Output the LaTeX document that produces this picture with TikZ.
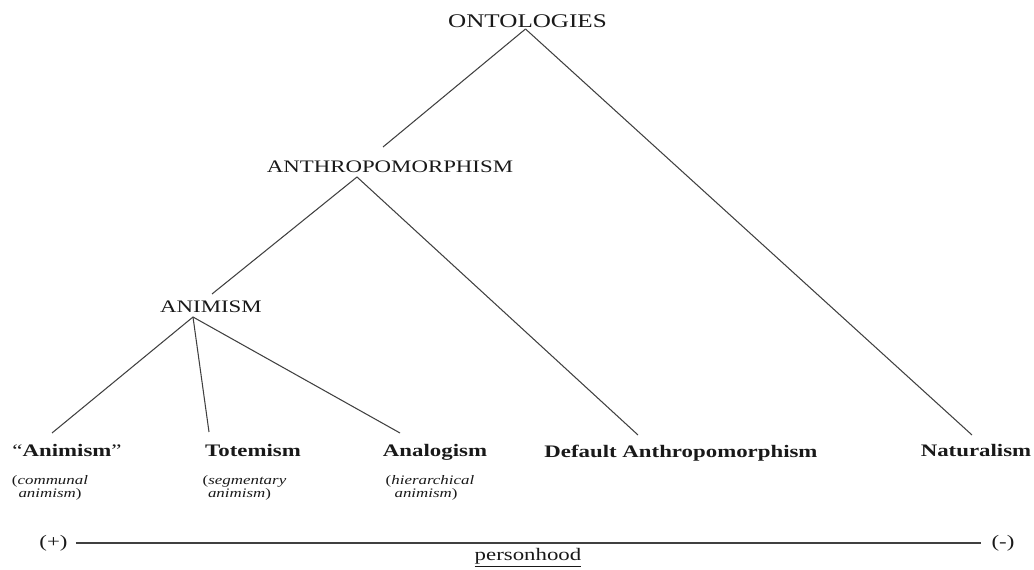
\documentclass[tikz,border=0pt]{standalone}
\usepackage{fontspec}
\setmainfont{Liberation Serif}[FakeStretch=1.3]
\usetikzlibrary{calc}
\begin{document}
\begin{tikzpicture}[x=0.02cm,y=-0.02cm,
  every node/.style={inner sep=0pt, anchor=base, text=black!90},
  head/.style={font=\fontsize{10}{12}\selectfont},
  leaf/.style={font=\bfseries\fontsize{10}{12}\selectfont},
  note/.style={font=\fontsize{7.4}{8}\selectfont},
  link/.style={draw=black!75, line width=0.6pt}]
\useasboundingbox (0,0) rectangle (1034,570);
% nodes
\node[head, font=\fontsize{11}{13}\selectfont] (ont) at (527.5,28) {ONTOLOGIES};
\node[head] (anth) at (390,173) {ANTHROPOMORPHISM};
\node[head] (anim) at (211,313) {ANIMISM};
\node[leaf] (an) at (67,457) {{\mdseries``}Animism{\mdseries''}};
\node[leaf] (tot) at (253,457) {Totemism};
\node[leaf] (ana) at (435,457) {Analogism};
\node[leaf] (def) at (681,458) {Default Anthropomorphism};
\node[leaf] (nat) at (976,457) {Naturalism};
\node[note] (n1a) at (50,484) {(\textit{communal}};
\node[note] (n1b) at (50,498) {\textit{animism})};
\node[note] (n2a) at (244.5,484) {(\textit{segmentary}};
\node[note] (n2b) at (239.5,498) {\textit{animism})};
\node[note] (n3a) at (430,484) {(\textit{hierarchical}};
\node[note] (n3b) at (426,498) {\textit{animism})};
\node[head, anchor=center, inner xsep=4.5pt] (plus) at (53.5,543) {(+)};
\node[head, anchor=center, inner xsep=6pt] (minus) at (1003,543) {(-)};
\node[head] (pers) at (528,560) {\underline{personhood}};
% connectors
\draw[link] ($(ont.base)+(-2,1)$) -- ($(anth.base)+(-7,-26)$);
\draw[link] ($(ont.base)+(-2,1)$) -- ($(nat.base)+(-4,-22)$);
\draw[link] ($(anth.base)+(-33,4)$) -- ($(anim.base)+(1,-19)$);
\draw[link] ($(anth.base)+(-33,4)$) -- ($(def.base)+(-43,-23)$);
\draw[link] ($(anim.base)+(-18,4)$) -- ($(an.base)+(-15,-24)$);
\draw[link] ($(anim.base)+(-18,4)$) -- ($(tot.base)+(-44,-25)$);
\draw[link] ($(anim.base)+(-18,4)$) -- ($(ana.base)+(-35,-24)$);
\draw[link] (plus.east) -- (minus.west);
\end{tikzpicture}
\end{document}
